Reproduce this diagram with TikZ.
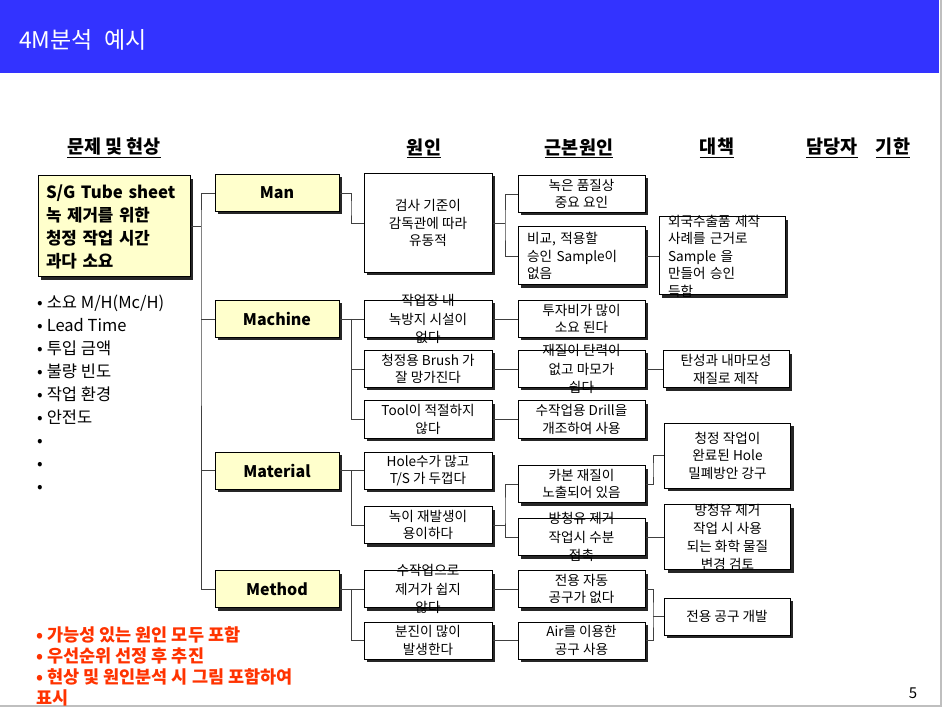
\documentclass[tikz,border=0pt]{standalone}
\usepackage{fontspec}
\setmainfont{Noto Sans CJK KR}
\usetikzlibrary{shadows}
\definecolor{hdrblue}{HTML}{3333FF}
\definecolor{boxyellow}{HTML}{FFFFCC}
\definecolor{notered}{HTML}{FF3300}
\newcommand{\fsz}[2]{\fontsize{#1}{#2}\selectfont}
\begin{document}
\begin{tikzpicture}[x=1pt, y=-1pt,
  every node/.style={font=\fsz{13.6}{17.5}, inner sep=0pt},
  shadowed/.style={drop shadow={shadow xshift=3pt, shadow yshift=-3pt, fill=black!85, opacity=1}},
  yelbox/.style={draw, line width=1pt, fill=boxyellow, shadowed},
  fourm/.style={yelbox, minimum width=124pt, minimum height=37pt, font=\bfseries\fsz{16}{20}},
  cbox/.style={draw, line width=1pt, fill=white, shadowed, minimum width=128pt, minimum height=37pt, align=center},
  rbox/.style={cbox, minimum width=127pt},
  abox/.style={cbox, minimum width=126pt},
  ctxt/.style={align=center, font=\fsz{13.6}{18.5}},
  colhead/.style={font=\bfseries\fsz{18.5}{20}},
  link/.style={line width=0.8pt, black!75}]
  \useasboundingbox (0,0) rectangle (945,708);
  \fill[white] (0,0) rectangle (945,708);
  % title bar
  \fill[hdrblue] (0,0) rectangle (939,73);
  \node[anchor=west, text=white, font=\fsz{23}{26}] (title) at (19,40) {4M분석\hspace{6pt} 예시};
  \draw[black!25, line width=1.5pt] (941,0) -- (941,706) -- (0,706);
  % column heads
  \node[colhead] (h1) at (114,148) {\underline{문제 및 현상}};
  \node[colhead] (h2) at (424,148) {\underline{원인}};
  \node[colhead] (h3) at (579,148) {\underline{근본원인}};
  \node[colhead] (h4) at (717,148) {\underline{대책}};
  \node[colhead] (h5) at (832,148) {\underline{담당자}};
  \node[colhead] (h6) at (893,148) {\underline{기한}};
  % problem and measures
  \node[yelbox, minimum width=152pt, minimum height=101pt, text width=136pt, align=left,
    font=\bfseries\fsz{16.8}{23}] (prob) at (114,226.5)
    {S/G Tube sheet\\녹 제거를 위한\\청정 작업 시간\\과다 소요};
  \node[anchor=north west, align=left, font=\fsz{16.5}{23}] (items) at (37,295)
    {•\hspace{4pt}소요 M/H(Mc/H)\\•\hspace{4pt}Lead Time\\•\hspace{4pt}투입 금액\\•\hspace{4pt}불량 빈도\\•\hspace{4pt}작업 환경\\•\hspace{4pt}안전도\\•\\•\\•};
  \node[anchor=north west, align=left, text=notered, font=\bfseries\fsz{17.5}{21}] (notes) at (36,626)
    {• 가능성 있는 원인 모두 포함\\• 우선순위 선정 후 추진\\• 현상 및 원인분석 시 그림 포함하여\\표시};
  % 4M
  \node[fourm] (man) at (277,193) {Man};
  \node[fourm] (mach) at (277,319) {Machine};
  \node[fourm] (matl) at (277,470.5) {Material};
  \node[fourm] (meth) at (277,589) {Method};
  % causes
  \node[cbox, minimum height=99pt] (c1) at (428,223) {검사 기준이\\감독관에 따라\\유동적};
  \node[cbox] (c21) at (428,319) {};
  \node[ctxt] (c21t) at (c21) {작업장 내\\녹방지 시설이\\없다};
  \node[cbox] (c22) at (428,369) {청정용 Brush 가\\잘 망가진다};
  \node[cbox] (c23) at (428,419.5) {Tool이 적절하지\\않다};
  \node[cbox] (c31) at (428,470.5) {Hole수가 많고\\T/S 가 두껍다};
  \node[cbox] (c32) at (428,525) {녹이 재발생이\\용이하다};
  \node[cbox] (c41) at (428,589) {};
  \node[ctxt] (c41t) at (c41) {수작업으로\\제거가 쉽지\\않다};
  \node[cbox] (c42) at (428,640.5) {분진이 많이\\발생한다};
  % root causes
  \node[rbox] (r11) at (581.5,194) {녹은 품질상\\중요 요인};
  \node[rbox, minimum height=58pt, text width=109pt, align=left] (r12) at (581.5,256)
    {비교, 적용할\\승인 Sample이\\없음};
  \node[rbox] (r21) at (581.5,319) {투자비가 많이\\소요 된다};
  \node[rbox] (r22) at (581.5,369) {};
  \node[ctxt] (r22t) at (r22) {재질이 탄력이\\없고 마모가\\쉽다};
  \node[rbox] (r23) at (581.5,419.5) {수작업용 Drill을\\개조하여 사용};
  \node[rbox] (r31) at (581.5,484) {카본 재질이\\노출되어 있음};
  \node[rbox] (r32) at (581.5,537) {};
  \node[ctxt] (r32t) at (r32) {방청유 제거\\작업시 수분\\접촉};
  \node[rbox] (r41) at (581.5,589) {전용 자동\\공구가 없다};
  \node[rbox] (r42) at (581.5,640.5) {Air를 이용한\\공구 사용};
  % actions
  \node[abox, minimum height=78pt] (a1) at (722,256) {};
  \node[align=left, text width=108pt, font=\fsz{13.6}{17.5}] (a1t) at (a1) {외국수출품 제작\\사례를 근거로\\Sample 을\\만들어 승인\\득함};
  \node[abox] (a2) at (726,369.5) {탄성과 내마모성\\재질로 제작};
  \node[abox, minimum height=65pt] (a3) at (727.5,455.5) {청정 작업이\\완료된 Hole\\밀폐방안 강구};
  \node[abox, minimum height=65pt] (a4) at (727.5,537) {};
  \node[ctxt, font=\fsz{13.6}{18}] (a4t) at (a4) {방청유 제거\\작업 시 사용\\되는 화학 물질\\변경 검토};
  \node[abox] (a5) at (727,616.5) {전용 공구 개발};
  \node[font=\fsz{15}{18}] (pg) at (913,693) {5};
  % junctions
  \coordinate (j0) at (201,226);
  \coordinate (j1) at (351,208);
  \coordinate (j2) at (351,369);
  \coordinate (j3) at (351,500);
  \coordinate (j4) at (351,615);
  \coordinate (k1) at (505,225);
  \coordinate (k3) at (505,510);
  \coordinate (m3) at (653,470);
  \coordinate (m4) at (653,615);
  % trunk
  \draw[link] (man.west) -| (j0) |- (meth.west);
  \draw[link] (prob.east) -- (prob.east -| j0);
  \draw[link] (mach.west) -- (mach.west -| j0);
  \draw[link] (matl.west) -- (matl.west -| j0);
  % 4M to causes
  \draw[link] (man.east) -| (j1) |- (c1.west);
  \draw[link] (mach.east) -- (c21.west);
  \draw[link] (c21.west -| j2) |- (c23.west);
  \draw[link] (c22.west) -- (c22.west -| j2);
  \draw[link] (matl.east) -- (c31.west);
  \draw[link] (c31.west -| j3) |- (c32.west);
  \draw[link] (meth.east) -- (c41.west);
  \draw[link] (c41.west -| j4) |- (c42.west);
  % causes to roots
  \draw[link] (r11.west) -| (k1) |- (r12.west);
  \draw[link] (c1.east) -- (c1.east -| k1);
  \draw[link] (c21.east) -- (r21.west);
  \draw[link] (c22.east) -- (r22.west);
  \draw[link] (c23.east) -- (r23.west);
  \draw[link] (r31.west) -| (k3) |- (r32.west);
  \draw[link] (c32.east) -- (c32.east -| k3);
  \draw[link] (c41.east) -- (r41.west);
  \draw[link] (c42.east) -- (r42.west);
  % roots to actions
  \draw[link] (r12.east) -- (a1.west);
  \draw[link] (r22.east) -- (r22.east -| a2.west);
  \draw[link] (r31.east) -| (m3) |- (a3.west);
  \draw[link] (r32.east) -- (a4.west);
  \draw[link] (r41.east) -| (m4) |- (r42.east);
  \draw[link] (m4 |- a5.west) -- (a5.west);
\end{tikzpicture}
\end{document}
